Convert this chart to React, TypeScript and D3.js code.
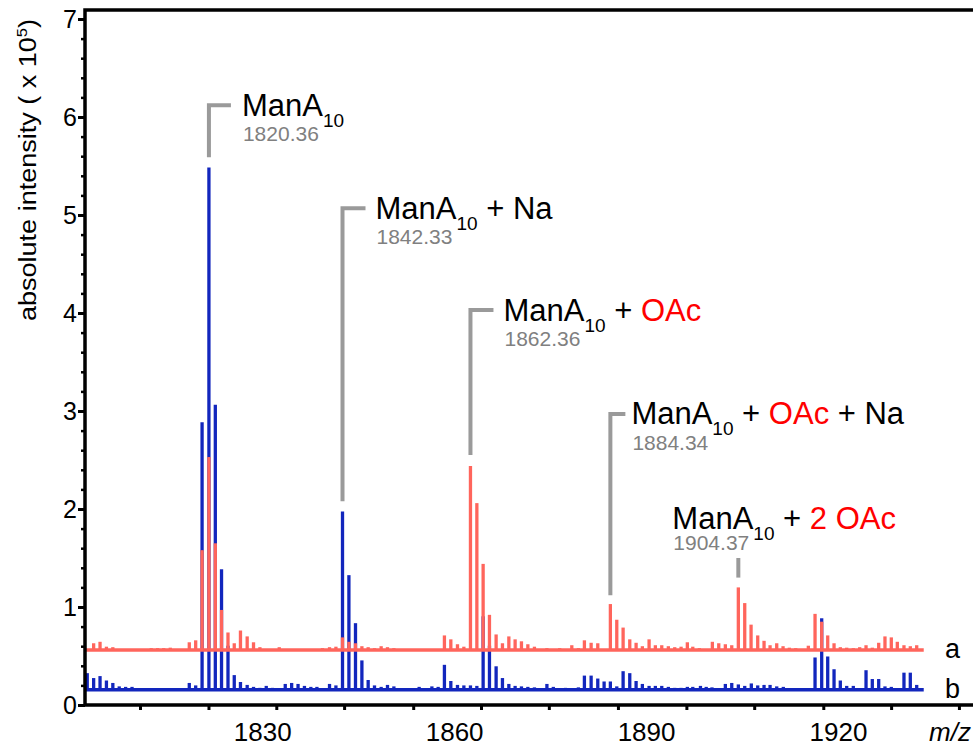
import React, { useEffect, useRef } from 'react'
import * as d3 from 'd3'

const W = 973
const H = 745

// spectrum a (red) - [m/z, intensity above its own baseline, x 10^5]
const traceA: [number, number][] = [
  [1803.65, 0.07], [1804.65, 0.085], [1805.65, 0.035], [1806.65, 0.03],
  [1812.65, 0.02], [1813.65, 0.02], [1814.6, 0.02], [1815.63, 0.025],
  [1818.6, 0.08], [1819.6, 0.1], [1820.6, 1.02], [1821.67, 1.97], [1822.67, 1.09], [1823.64, 0.41],
  [1824.65, 0.18], [1825.63, 0.07], [1826.6, 0.2], [1827.65, 0.14], [1828.64, 0.08], [1829.64, 0.03],
  [1832.66, 0.03],
  [1839.42, 0.02], [1840.52, 0.03], [1841.52, 0.035], [1842.55, 0.13], [1843.55, 0.085], [1844.58, 0.07],
  [1845.58, 0.04], [1846.56, 0.03], [1847.55, 0.02], [1848.59, 0.04], [1849.58, 0.03], [1850.58, 0.02],
  [1858.48, 0.15], [1859.48, 0.11], [1860.52, 0.06], [1861.52, 0.035], [1862.55, 1.88], [1863.55, 1.5],
  [1864.53, 0.88], [1865.52, 0.36], [1866.56, 0.16], [1867.55, 0.07], [1868.55, 0.14], [1869.53, 0.11],
  [1870.52, 0.09], [1871.52, 0.06], [1872.55, 0.035], [1874.5, 0.02], [1876.5, 0.02],
  [1878.39, 0.05], [1879.42, 0.02], [1880.36, 0.1], [1881.41, 0.075], [1882.45, 0.07], [1884.42, 0.47],
  [1885.42, 0.31], [1886.41, 0.23], [1887.45, 0.11], [1888.44, 0.075], [1889.42, 0.04], [1890.47, 0.11],
  [1891.45, 0.05], [1892.45, 0.05], [1893.48, 0.04], [1894.48, 0.03], [1895.47, 0.035], [1896.45, 0.08],
  [1897.3, 0.035], [1898.33, 0.02], [1900.36, 0.085], [1901.36, 0.07], [1902.39, 0.06], [1903.39, 0.05],
  [1904.42, 0.64], [1905.42, 0.48], [1906.41, 0.26], [1907.45, 0.15], [1908.44, 0.095], [1909.38, 0.05],
  [1910.42, 0.07], [1911.41, 0.04], [1912.39, 0.025], [1913.39, 0.02], [1915.36, 0.045], [1916.41, 0.37],
  [1917.45, 0.29], [1918.39, 0.15], [1919.38, 0.07], [1920.36, 0.03], [1921.36, 0.025], [1922.39, 0.02],
  [1923.39, 0.03], [1924.38, 0.05], [1925.36, 0.025], [1926.36, 0.075], [1927.34, 0.14], [1928.33, 0.13],
  [1929.27, 0.085], [1930.31, 0.05], [1931.3, 0.04], [1932.3, 0.05],
]

// spectrum b (blue)
const traceB: [number, number][] = [
  [1802.65, 0.17], [1803.65, 0.12], [1804.65, 0.14], [1805.65, 0.095], [1806.65, 0.07], [1807.65, 0.035],
  [1808.65, 0.03], [1809.65, 0.03],
  [1818.6, 0.07], [1819.6, 0.045], [1820.6, 2.73], [1821.67, 5.33], [1822.67, 2.91], [1823.64, 1.23],
  [1824.65, 0.45], [1825.63, 0.15], [1826.6, 0.08], [1827.65, 0.05], [1828.64, 0.03], [1829.64, 0.02],
  [1830.63, 0.04], [1831.6, 0.02], [1833.6, 0.06], [1834.6, 0.07], [1835.6, 0.06], [1836.6, 0.04],
  [1837.6, 0.03], [1838.55, 0.03],
  [1840.52, 0.06], [1841.52, 0.045], [1842.55, 1.82], [1843.55, 1.17], [1844.58, 0.68], [1845.58, 0.3],
  [1846.56, 0.1], [1847.55, 0.045], [1848.59, 0.03], [1849.58, 0.05], [1850.58, 0.035], [1854.53, 0.03],
  [1856.52, 0.035], [1857.5, 0.03], [1858.48, 0.255], [1859.48, 0.09], [1860.52, 0.05], [1861.52, 0.045],
  [1862.55, 0.045], [1863.55, 0.04], [1864.53, 0.75], [1865.52, 0.45], [1866.56, 0.24], [1867.55, 0.12],
  [1868.55, 0.06], [1869.53, 0.04], [1870.52, 0.035], [1871.52, 0.03], [1872.55, 0.025],
  [1874.5, 0.06], [1875.5, 0.03], [1877.4, 0.02],
  [1878.39, 0.015], [1879.42, 0.025], [1880.36, 0.145], [1881.41, 0.145], [1882.45, 0.115], [1883.44, 0.085],
  [1884.42, 0.085], [1885.42, 0.035], [1886.41, 0.19], [1887.45, 0.17], [1888.44, 0.09], [1889.42, 0.06],
  [1890.47, 0.04], [1891.45, 0.04], [1892.45, 0.04], [1893.48, 0.03], [1894.48, 0.02], [1895.47, 0.02],
  [1896.45, 0.03],
  [1897.3, 0.03], [1898.5, 0.04], [1899.4, 0.03], [1900.3, 0.025], [1902.39, 0.06], [1903.39, 0.07],
  [1904.42, 0.055], [1905.42, 0.04], [1906.45, 0.065], [1907.45, 0.045], [1908.44, 0.05], [1909.38, 0.05],
  [1910.42, 0.035], [1911.45, 0.03],
  [1916.41, 0.33], [1917.45, 0.73], [1918.39, 0.34], [1919.38, 0.21], [1920.36, 0.095], [1921.36, 0.04],
  [1922.39, 0.04], [1924.38, 0.2], [1925.36, 0.11], [1926.36, 0.11], [1927.34, 0.035], [1928.33, 0.03],
  [1930.31, 0.175], [1931.3, 0.175], [1932.3, 0.05],
]

const baseA = 0.56
const baseB = 0.155
const traceEnd = 1933.4

const xTickLabels = [1830, 1860, 1890, 1920]
const xMinorTicks = [1810.9, 1821.6, 1832.2, 1842.8, 1853.6, 1864.2, 1874.8, 1885.6, 1896.3, 1906.9, 1917.7, 1928.3, 1938.9]
const yTickLabels = [0, 1, 2, 3, 4, 5, 6, 7]

const RED = '#ff655c'
const BLUE = '#1226bd'
const GREY = '#9a9a9a'
const FONT = '"Liberation Sans", Arial, Helvetica, sans-serif'

type Part = { t: string; sub?: boolean; red?: boolean }
const annotations: { mz: number; from: number; to: number; hook: number; dx: number; dy: number; massDy: number; mass: string; parts: Part[] }[] = [
  { mz: 1821.67, from: 5.59, to: 6.12, hook: 22, dx: 33, dy: 11, massDy: 25, mass: '1820.36',
    parts: [{ t: 'ManA' }, { t: '10', sub: true }] },
  { mz: 1842.55, from: 2.08, to: 5.07, hook: 23, dx: 33, dy: 11, massDy: 25, mass: '1842.33',
    parts: [{ t: 'ManA' }, { t: '10', sub: true }, { t: '\u00a0+ Na' }] },
  { mz: 1862.55, from: 2.55, to: 4.03, hook: 23, dx: 33, dy: 11, massDy: 25, mass: '1862.36',
    parts: [{ t: 'ManA' }, { t: '10', sub: true }, { t: '\u00a0+ ' }, { t: 'OAc', red: true }] },
  { mz: 1884.42, from: 1.12, to: 2.97, hook: 15, dx: 21, dy: 10, massDy: 26, mass: '1884.34',
    parts: [{ t: 'ManA' }, { t: '10', sub: true }, { t: '\u00a0+ ' }, { t: 'OAc', red: true }, { t: ' + Na' }] },
  { mz: 1904.42, from: 1.3, to: 1.5, hook: 0, dx: -66, dy: -29, massDy: 21, mass: '1904.37',
    parts: [{ t: 'ManA' }, { t: '10', sub: true }, { t: '\u00a0+ ' }, { t: '2 OAc', red: true }] },
]

export default function App() {
  const ref = useRef<SVGSVGElement>(null)

  useEffect(() => {
    const svg = d3.select(ref.current)
    svg.selectAll('*').remove()

    const x = d3.scaleLinear().domain([1802.3, 1941.1]).range([85, 973])
    const y = d3.scaleLinear().domain([0, 7]).range([705, 19])
    const frameTop = 10

    // spectra: b underneath, a on top
    const drawTrace = (data: [number, number][], base: number, color: string) => {
      const g = svg.append('g')
      g.selectAll('line.bar')
        .data(data)
        .enter()
        .append('line')
        .attr('class', 'bar')
        .attr('x1', d => x(d[0]))
        .attr('x2', d => x(d[0]))
        .attr('y1', y(base))
        .attr('y2', d => y(base + d[1]))
        .attr('stroke', color)
        .attr('stroke-width', 3.3)
      g.append('line')
        .attr('x1', x.range()[0])
        .attr('x2', x(traceEnd))
        .attr('y1', y(base))
        .attr('y2', y(base))
        .attr('stroke', color)
        .attr('stroke-width', 3.5)
    }
    drawTrace(traceB, baseB, BLUE)
    drawTrace(traceA, baseA, RED)

    // trace names
    svg.append('text').attr('x', 945).attr('y', y(baseA) + 8).text('a')
      .attr('font-size', 27).attr('font-family', FONT)
    svg.append('text').attr('x', 945).attr('y', y(baseB) + 8).text('b')
      .attr('font-size', 27).attr('font-family', FONT)

    // peak annotations
    annotations.forEach(a => {
      const px = x(a.mz)
      const top = y(a.to)
      const path = d3.path()
      path.moveTo(px, y(a.from))
      path.lineTo(px, top)
      if (a.hook) path.lineTo(px + a.hook, top)
      svg.append('path').attr('d', path.toString())
        .attr('fill', 'none').attr('stroke', GREY).attr('stroke-width', 4)

      const t = svg.append('text')
        .attr('x', px + a.dx).attr('y', top + a.dy)
        .attr('font-family', FONT).attr('font-size', 31)
      let down = false
      a.parts.forEach(p => {
        const s = t.append('tspan').text(p.t).attr('fill', p.red ? '#ff0000' : '#000')
        if (p.sub) { s.attr('font-size', 19).attr('dy', 11); down = true }
        else if (down) { s.attr('dy', -11); down = false }
      })
      svg.append('text')
        .attr('x', px + a.dx + 1).attr('y', top + a.dy + a.massDy)
        .attr('font-family', FONT).attr('font-size', 21).attr('fill', '#808080')
        .text(a.mass)
    })

    // axes
    const yMinor = svg.append('g').attr('transform', 'translate(85,0)')
      .call(d3.axisLeft(y).tickValues(d3.range(0, 7.001, 0.2)).tickSize(4).tickFormat(() => ''))
    yMinor.selectAll('line').attr('stroke-width', 2.5)
    const yMajor = svg.append('g').attr('transform', 'translate(85,0)')
      .call(d3.axisLeft(y).tickValues(yTickLabels).tickSize(7).tickPadding(1).tickFormat(d3.format('d')))
    yMajor.selectAll('line').attr('stroke-width', 3)
    yMajor.selectAll('text').attr('font-size', 25).attr('font-family', FONT).attr('fill', '#000')

    const xMinor = svg.append('g').attr('transform', 'translate(0,705)')
      .call(d3.axisBottom(x).tickValues(xMinorTicks).tickSize(5).tickFormat(() => ''))
    xMinor.selectAll('line').attr('stroke-width', 3)
    const xLab = svg.append('g').attr('transform', 'translate(0,705)')
      .call(d3.axisBottom(x).tickValues(xTickLabels).tickSize(0).tickPadding(18).tickFormat(d3.format('d')))
    xLab.selectAll('text').attr('font-size', 26).attr('font-family', FONT).attr('fill', '#000')

    svg.selectAll('.domain').remove()

    // frame
    svg.append('path')
      .attr('d', `M${x.range()[1]},${frameTop}H85V705H${x.range()[1]}`)
      .attr('fill', 'none').attr('stroke', '#000').attr('stroke-width', 3.5)

    svg.append('text').attr('x', 929).attr('y', 741)
      .attr('font-family', FONT).attr('font-size', 26).attr('font-style', 'italic')
      .text('m/z')

    const title = svg.append('text')
      .attr('transform', 'translate(36,170) rotate(-90)')
      .attr('text-anchor', 'middle')
      .attr('font-family', FONT).attr('font-size', 23)
      .attr('textLength', 302).attr('lengthAdjust', 'spacingAndGlyphs')
    title.append('tspan').text('absolute intensity ( x 10')
    title.append('tspan').text('5').attr('font-size', 14).attr('dy', -9)
    title.append('tspan').text(')').attr('dy', 9)
  }, [])

  return (
    <svg ref={ref} width={W} height={H}
      style={{ position: 'absolute', left: 0, top: 0, background: '#fff', display: 'block' }} />
  )
}
